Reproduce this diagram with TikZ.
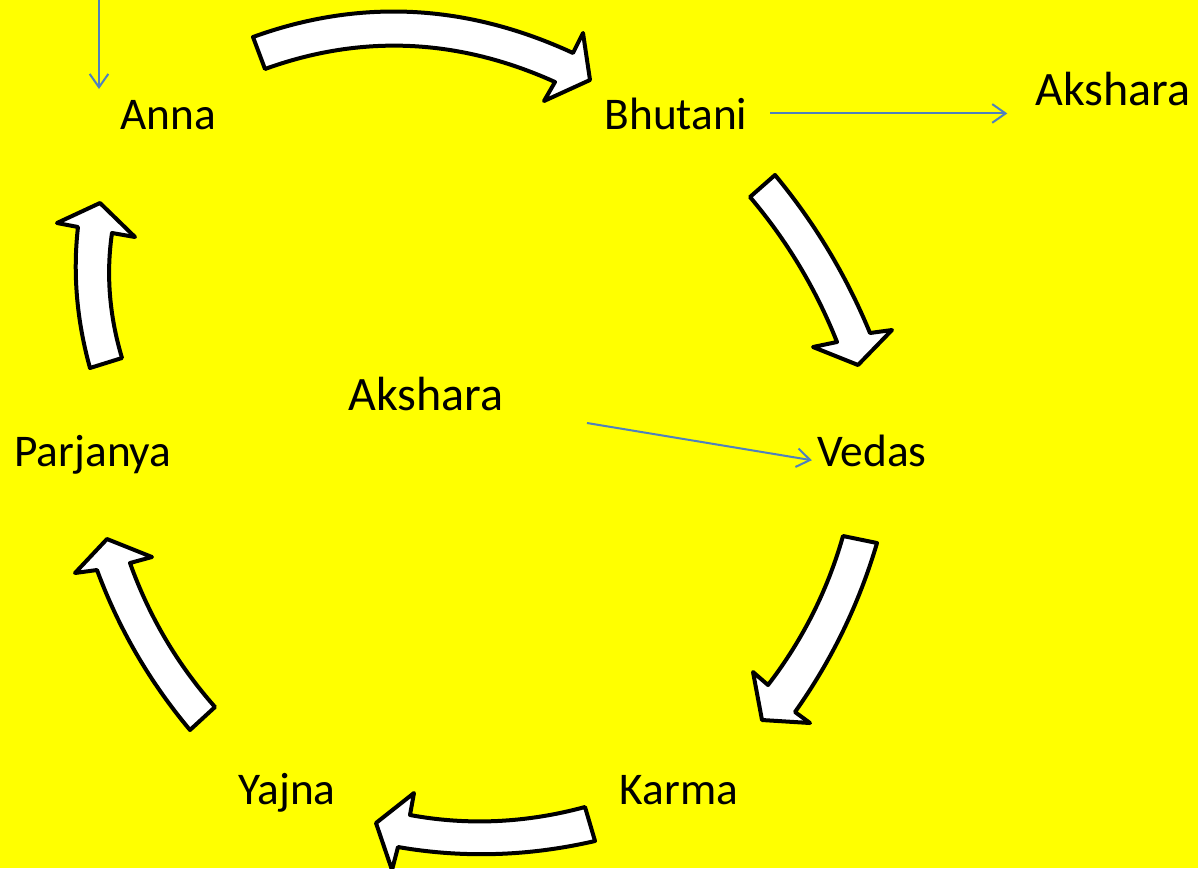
\documentclass[tikz,border=0pt]{standalone}
\usepackage{fontspec}
\setmainfont{Carlito}
\usetikzlibrary{arrows.meta}
\definecolor{bgyellow}{HTML}{FFFF00}
\definecolor{linkblue}{HTML}{4F81BD}

\begin{document}
\begin{tikzpicture}[
    x=0.75pt, y=-0.75pt,
    >={Straight Barb[length=10pt,width=14pt]},
    word/.style={anchor=base, inner sep=0pt, font=\fontsize{34}{40}\selectfont},
    bigword/.style={word, font=\fontsize{36}{42}\selectfont},
    link/.style={->, draw=linkblue, line width=1.5pt},
    cyclearrow/.style={fill=white, draw=black, line width=3pt, line join=round},
]
    % Background
    \fill[bgyellow] (0,0) rectangle (1198,868);
    \useasboundingbox (0,0) rectangle (1198,868);
    \clip (0,0) rectangle (1198,868);

    % Words
    \node[word] (anna) at (168,129) {Anna};
    \node[word] (bhutani) at (676,129) {Bhutani};
    \node[bigword] (aksharaR) at (1113,105) {Akshara};
    \node[bigword] (aksharaC) at (426,410) {Akshara};
    \node[word] (parjanya) at (93,466) {Parjanya};
    \node[word] (vedas) at (872,466) {Vedas};
    \node[word] (yajna) at (287,804) {Yajna};
    \node[word] (karma) at (679,804) {Karma};

    % Cycle arrows
    \draw[cyclearrow] (253,37) .. controls (359.7,-1.7) and (466.3,3.7) .. (573,53) -- (583,33) -- (590,80)
        -- (544,101) -- (555,82) .. controls (458.3,38.3) and (361.7,34) .. (265,69) -- cycle;
    \draw[cyclearrow] (775,175) .. controls (814.7,222.9) and (846.3,275.5) .. (870,333) -- (892,330) -- (858,365)
        -- (813,347) -- (837,342) .. controls (816,289) and (787,240.7) .. (750,197) -- cycle;
    \draw[cyclearrow] (877,543) .. controls (859,604) and (831.7,660.3) .. (795,712) -- (810,723) -- (762,720)
        -- (753,672) -- (768,685) .. controls (802.6,640) and (827.6,590.3) .. (843,536) -- cycle;
    \draw[cyclearrow] (595,841) .. controls (528.7,856.3) and (463,858.3) .. (398,847) -- (392,870) -- (376,823)
        -- (414,793) -- (410,815) .. controls (467.7,825.7) and (526,823) .. (585,807) -- cycle;
    \draw[cyclearrow] (190,730) .. controls (149.7,682) and (118.7,628.7) .. (97,570) -- (75,573) -- (107,539)
        -- (152,557) -- (130,563) .. controls (149,616.3) and (177.3,664.3) .. (215,707) -- cycle;
    \draw[cyclearrow] (90,368) .. controls (76.7,320.3) and (72.7,273.3) .. (78,227) -- (57,223) -- (100,203)
        -- (135,237) -- (112,233) .. controls (106,274) and (109.3,315.7) .. (122,358) -- cycle;

    % Links
    \coordinate (feedTop) at (99,-5);
    \coordinate (annaIn) at (99,89);
    \coordinate (vedasSrc) at (587,423);
    \draw[link] (feedTop) -- (annaIn);
    \draw[link, shorten <=17pt, shorten >=21pt] (bhutani.east) -- (bhutani.east -| aksharaR.west);
    \draw[link, shorten >=4pt] (vedasSrc) -- ([yshift=-8pt]vedas.west);
\end{tikzpicture}
\end{document}
